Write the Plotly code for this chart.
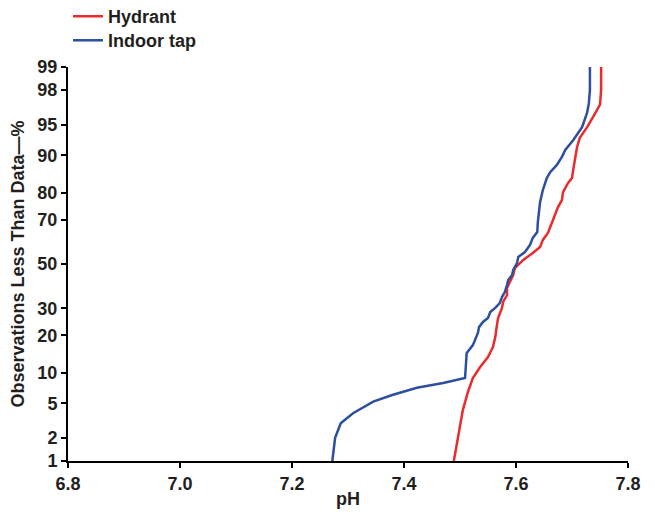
import plotly.graph_objects as go
from statistics import NormalDist

nd = NormalDist()

# Hydrant series (pH, % observations less than)
hydrant_ph = [7.489, 7.496, 7.505, 7.514, 7.523, 7.536, 7.550, 7.559, 7.563, 7.566, 7.568,
              7.575, 7.577, 7.584, 7.584, 7.589, 7.595, 7.598, 7.613, 7.630, 7.643, 7.648,
              7.657, 7.664, 7.670, 7.675, 7.682, 7.684, 7.693, 7.700, 7.702, 7.705, 7.709,
              7.714, 7.727, 7.738, 7.750, 7.752, 7.752]
hydrant_pct = [1.0, 2.05, 4.2, 6.5, 8.9, 11.2, 13.6, 16.4, 19.4, 23.6, 26.2,
               30.2, 32.7, 35.7, 38.9, 41.6, 44.8, 48.1, 51.9, 55.2, 58.0, 61.2,
               64.3, 68.6, 72.6, 74.9, 77.5, 80.2, 83.1, 84.5, 86.6, 89.0, 91.6,
               93.2, 94.7, 95.9, 97.0, 98.0, 99.0]

# Indoor tap series
tap_ph = [7.272, 7.277, 7.287, 7.309, 7.345, 7.379, 7.423, 7.470, 7.509, 7.512, 7.512,
          7.523, 7.532, 7.534, 7.541, 7.550, 7.554, 7.563, 7.571, 7.575, 7.580, 7.584,
          7.586, 7.593, 7.595, 7.602, 7.604, 7.616, 7.625, 7.630, 7.638, 7.639, 7.641,
          7.643, 7.648, 7.655, 7.661, 7.673, 7.682, 7.688, 7.702, 7.718, 7.727, 7.730,
          7.732, 7.732]
tap_pct = [1.0, 2.0, 3.0, 3.9, 5.2, 6.1, 7.2, 8.0, 8.9, 12.8, 14.7,
           16.9, 20.8, 22.8, 24.7, 26.2, 28.5, 30.2, 32.2, 34.8, 37.0, 40.2,
           42.5, 44.8, 47.2, 50.5, 53.3, 55.6, 58.9, 62.1, 64.7, 69.0, 73.0,
           76.8, 80.9, 84.5, 86.1, 87.9, 89.7, 91.1, 92.8, 94.7, 96.3, 97.1,
           98.0, 99.0]

y_ticks = [1, 2, 5, 10, 20, 30, 50, 70, 80, 90, 95, 98, 99]
x_ticks = [6.8, 7.0, 7.2, 7.4, 7.6, 7.8]


def z(p):
    return nd.inv_cdf(p / 100.0)


fig = go.Figure()
fig.add_trace(go.Scatter(x=hydrant_ph, y=[z(p) for p in hydrant_pct], mode="lines",
                         name="Hydrant", legend="legend",
                         line=dict(color="#EA2A2D", width=2.5)))
fig.add_trace(go.Scatter(x=tap_ph, y=[z(p) for p in tap_pct], mode="lines",
                         name="Indoor tap", legend="legend2",
                         line=dict(color="#2D4FA1", width=2.5)))

font_fam = "Liberation Sans, Arial, sans-serif"
txt = "#231F20"
leg_common = dict(x=0.0, xanchor="left", yanchor="top",
                  font=dict(family=font_fam, size=18, color=txt, weight="bold"),
                  bgcolor="rgba(0,0,0,0)")
fig.update_layout(
    width=647, height=504,
    margin=dict(l=60, r=27, t=59, b=51, autoexpand=False),
    plot_bgcolor="white", paper_bgcolor="white",
    font=dict(family=font_fam, size=18, color=txt),
    showlegend=True,
    legend=dict(y=1.175, **leg_common),
    legend2=dict(y=1.114, **leg_common),
    xaxis=dict(range=[6.8, 7.8], tickvals=x_ticks, ticktext=[f"{v:.1f}" for v in x_ticks],
               showgrid=False, zeroline=False, showline=True, linecolor="black", linewidth=2,
               ticks="outside", ticklen=5, tickwidth=1.5, tickcolor="black", automargin=False,
               tickfont=dict(family=font_fam, size=18, color=txt, weight="bold"),
               title=dict(text="<b>pH</b>", standoff=0,
                          font=dict(family=font_fam, size=18, color=txt))),
    yaxis=dict(range=[z(1), z(99)], tickvals=[z(v) for v in y_ticks],
               ticktext=[str(v) for v in y_ticks], automargin=False,
               showgrid=False, zeroline=False, showline=True, linecolor="black", linewidth=2,
               ticks="outside", ticklen=5, tickwidth=1.5, tickcolor="black",
               tickfont=dict(family=font_fam, size=18, color=txt, weight="bold"),
               title=dict(text="<b>Observations Less Than Data—%</b>", standoff=10,
                          font=dict(family=font_fam, size=18, color=txt))),
)

fig.write_html("out.html")
